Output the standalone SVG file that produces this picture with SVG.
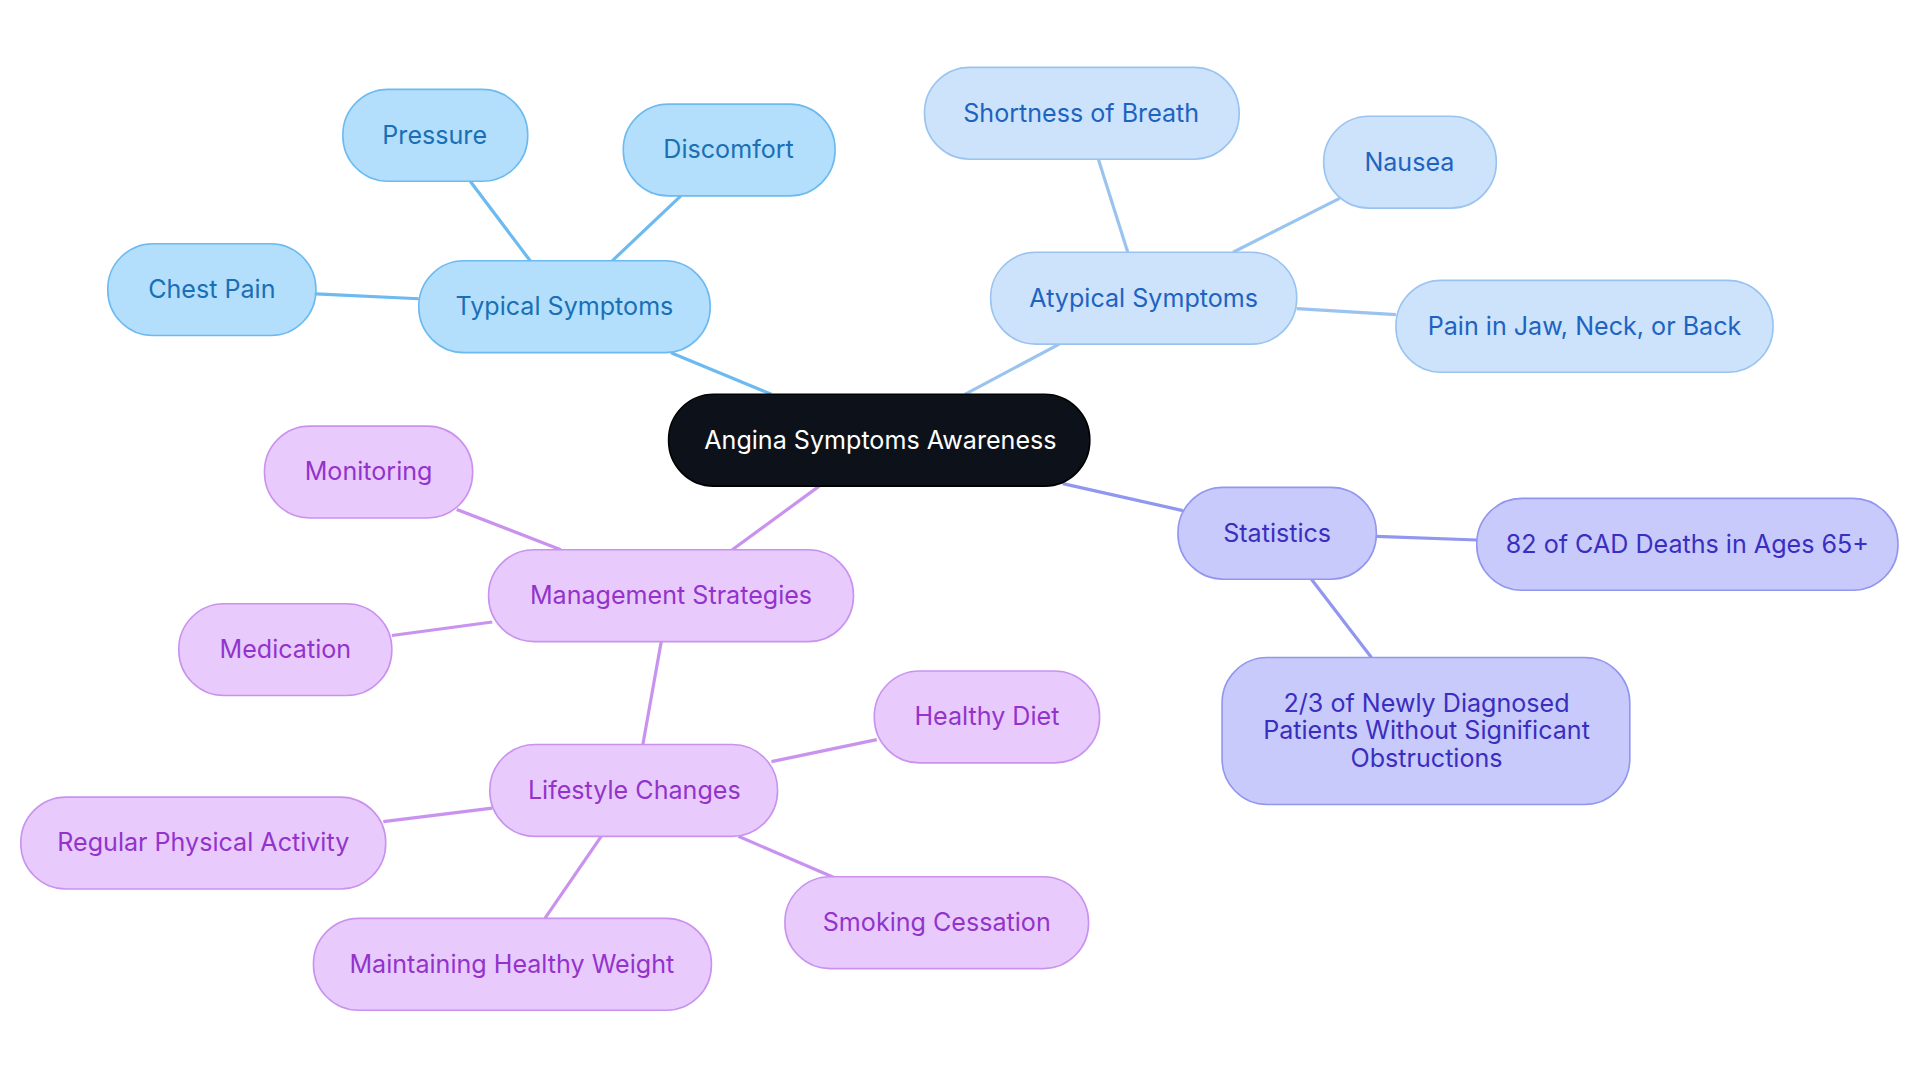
<svg xmlns="http://www.w3.org/2000/svg" width="1920" height="1083" viewBox="0 0 1920 1083">
<style>
text{font-family:Inter,"Liberation Sans",sans-serif;font-size:20.5px;text-anchor:middle;dominant-baseline:central}
rect{stroke-width:1.3}
.b rect{fill:#b3dffc;stroke:#6cbaf0}.b text{fill:#1a6fb5}
.a rect{fill:#cce3fb;stroke:#9ac4ef}.a text{fill:#1e63c0}
.s rect{fill:#c8cafb;stroke:#9196ee}.s text{fill:#3a2ec0}
.m rect{fill:#e8cbfc;stroke:#c992ef}.m text{fill:#9333cc}
#edges line{stroke-width:2.6}
</style>
<rect width="1920" height="1083" fill="#fff"/>
<g transform="scale(1.2245)">
<g id="edges">
<g stroke="#6cbaf0"><line x1="630" y1="322" x2="548" y2="288"/><line x1="433" y1="213" x2="384" y2="148"/><line x1="500" y1="213" x2="556" y2="160"/><line x1="342" y1="244" x2="258" y2="240"/></g>
<g stroke="#9ac4ef"><line x1="788" y1="322" x2="865" y2="281"/><line x1="921" y1="206" x2="897" y2="130"/><line x1="1007" y1="206" x2="1094" y2="162"/><line x1="1059" y1="252" x2="1140" y2="257"/></g>
<g stroke="#9196ee"><line x1="868" y1="395" x2="966" y2="417"/><line x1="1124" y1="438" x2="1206" y2="441"/><line x1="1071" y1="473" x2="1120" y2="537"/></g>
<g stroke="#c992ef"><line x1="669" y1="397" x2="598" y2="449"/><line x1="458" y1="449" x2="373" y2="416"/><line x1="402" y1="508" x2="320" y2="519"/><line x1="540" y1="524" x2="525" y2="608"/><line x1="630" y1="622" x2="716" y2="604"/><line x1="402" y1="660" x2="313" y2="671"/><line x1="491" y1="683" x2="445" y2="750"/><line x1="603" y1="683" x2="682" y2="717"/></g>
</g>
<g id="center"><rect x="546" y="322" width="344" height="75" rx="37" fill="#0d121a" stroke="#000"/><text x="719" y="359" fill="#fff">Angina Symptoms Awareness</text></g>
<g id="typical" class="b"><rect x="342" y="213" width="238" height="75" rx="37"/><text x="461" y="250">Typical Symptoms</text></g>
<g id="pressure" class="b"><rect x="280" y="73" width="151" height="75" rx="37"/><text x="355" y="110">Pressure</text></g>
<g id="discomfort" class="b"><rect x="509" y="85" width="173" height="75" rx="37"/><text x="595" y="122">Discomfort</text></g>
<g id="chestpain" class="b"><rect x="88" y="199" width="170" height="75" rx="37"/><text x="173" y="236">Chest Pain</text></g>
<g id="atypical" class="a"><rect x="809" y="206" width="250" height="75" rx="37"/><text x="934" y="243">Atypical Symptoms</text></g>
<g id="breath" class="a"><rect x="755" y="55" width="257" height="75" rx="37"/><text x="883" y="92">Shortness of Breath</text></g>
<g id="nausea" class="a"><rect x="1081" y="95" width="141" height="75" rx="37"/><text x="1151" y="132">Nausea</text></g>
<g id="jaw" class="a"><rect x="1140" y="229" width="308" height="75" rx="37"/><text x="1294" y="266">Pain in Jaw, Neck, or Back</text></g>
<g id="stats" class="s"><rect x="962" y="398" width="162" height="75" rx="37"/><text x="1043" y="435">Statistics</text></g>
<g id="cad" class="s"><rect x="1206" y="407" width="344" height="75" rx="37"/><text x="1378" y="444">82 of CAD Deaths in Ages 65+</text></g>
<g id="twothirds" class="s"><rect x="998" y="537" width="333" height="120" rx="37"/><text x="1165" y="574">2/3 of Newly Diagnosed</text><text x="1165" y="596">Patients Without Significant</text><text x="1165" y="619">Obstructions</text></g>
<g id="management" class="m"><rect x="399" y="449" width="298" height="75" rx="37"/><text x="548" y="486">Management Strategies</text></g>
<g id="monitoring" class="m"><rect x="216" y="348" width="170" height="75" rx="37"/><text x="301" y="385">Monitoring</text></g>
<g id="medication" class="m"><rect x="146" y="493" width="174" height="75" rx="37"/><text x="233" y="530">Medication</text></g>
<g id="lifestyle" class="m"><rect x="400" y="608" width="235" height="75" rx="37"/><text x="518" y="645">Lifestyle Changes</text></g>
<g id="diet" class="m"><rect x="714" y="548" width="184" height="75" rx="37"/><text x="806" y="585">Healthy Diet</text></g>
<g id="activity" class="m"><rect x="17" y="651" width="298" height="75" rx="37"/><text x="166" y="688">Regular Physical Activity</text></g>
<g id="weight" class="m"><rect x="256" y="750" width="325" height="75" rx="37"/><text x="418" y="787">Maintaining Healthy Weight</text></g>
<g id="smoking" class="m"><rect x="641" y="716" width="248" height="75" rx="37"/><text x="765" y="753">Smoking Cessation</text></g>
</g>
</svg>
